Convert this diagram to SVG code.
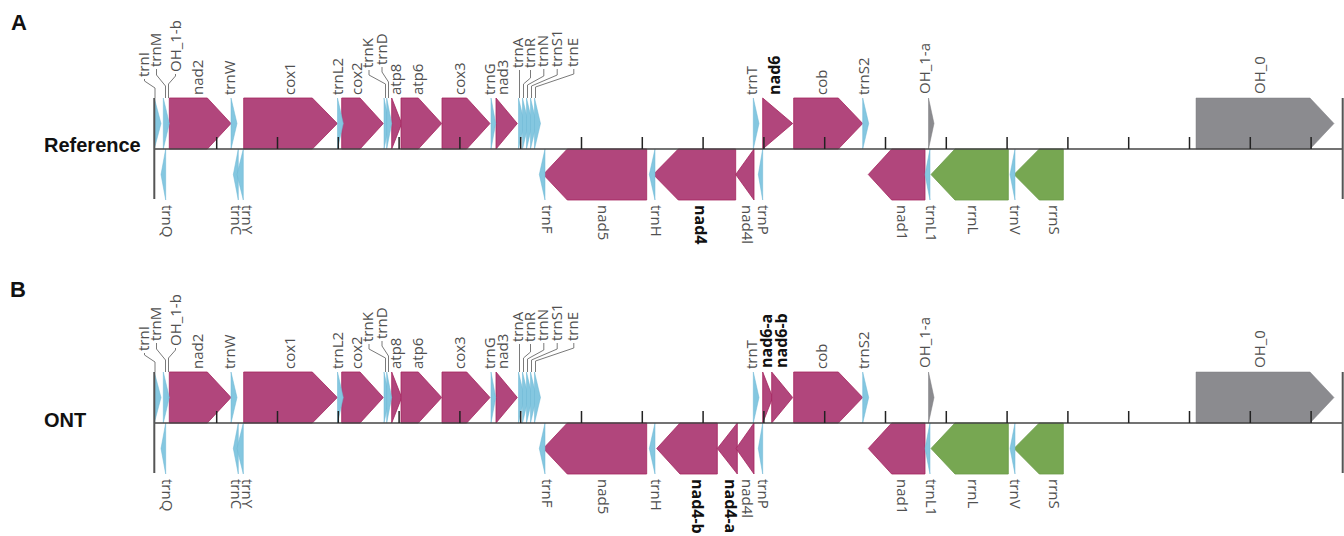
<svg xmlns="http://www.w3.org/2000/svg" width="1344" height="536" viewBox="0 0 1344 536">
<style>
.g{fill:#b1467c;stroke:#a4245e;stroke-width:0.8}
.t{fill:#84c7e0;stroke:#6db6d4;stroke-width:0.5}
.r{fill:#77a752;stroke:#6a9a47;stroke-width:0.8}
.o{fill:#8b8b8f;stroke:#7d7d80;stroke-width:0.5}
.lb{font-family:"Open Sans","DejaVu Sans",sans-serif;font-size:15px;fill:#505050}
.bd{font-family:"Open Sans","DejaVu Sans",sans-serif;font-size:16px;font-weight:700;fill:#111}
.ld{fill:none;stroke:#7a7a7a;stroke-width:1}
.ax{fill:none;stroke:#444;stroke-width:1.5}
.bar{fill:none;stroke:#555;stroke-width:2}
.tk{fill:none;stroke:#222;stroke-width:1.5}
.hd{font-family:"Liberation Sans",Arial,sans-serif;font-weight:700;fill:#111}
</style>
<defs>
<path id="ticks" class="tk" d="M216.7,137V149M277.5,137V149M338.3,137V149M399.1,137V149M459.9,137V149M520.7,137V149M581.5,137V149M642.3,137V149M703.1,137V149M763.9,137V149M824.7,137V149M885.5,137V149M946.3,137V149M1007.1,137V149M1067.9,137V149M1128.7,137V149M1189.5,137V149M1250.3,137V149M1311.1,137V149"/>
<path id="leaders" class="ld" d="M155,98V88L144.5,81V79M165.5,98V86L156.5,75V69M168.5,98V84L175.5,76V74M385.5,98V84L369,75V70M388.5,98V82L382,72V67M519.5,98V70M523.5,98V84L530.5,78V70M527.5,98V85L543.8,76V69M531.5,98V86L557.2,75V69M535.5,98V87L573.8,74V69"/>
</defs>

<text class="hd" x="11" y="30" font-size="22">A</text>
<text class="hd" x="44" y="152" font-size="20">Reference</text>
<text class="hd" x="10" y="297" font-size="22">B</text>
<text class="hd" x="44" y="427" font-size="20">ONT</text>

<!-- ================= Panel A ================= -->
<g id="panelA">
<g id="A-connectors"><use href="#leaders"/></g>
<g id="A-nad2"><polygon class="g" points="169.3,98 207.3,98 231,123.5 207.3,149 169.3,149"/><text class="lb" transform="translate(203,95) rotate(-90)">nad2</text></g>
<g id="A-cox1"><polygon class="g" points="243.7,98 312.3,98 337.3,123.5 312.3,149 243.7,149"/><text class="lb" transform="translate(295,95) rotate(-90)">cox1</text></g>
<g id="A-cox2"><polygon class="g" points="341.7,98 360,98 383.3,123.5 360,149 341.7,149"/><text class="lb" transform="translate(361.7,95) rotate(-90)">cox2</text></g>
<g id="A-atp8"><polygon class="g" points="391.7,98 401.7,123.5 391.7,149"/><text class="lb" transform="translate(400.7,95) rotate(-90)">atp8</text></g>
<g id="A-atp6"><polygon class="g" points="401,98 418.3,98 441.7,123.5 418.3,149 401,149"/><text class="lb" transform="translate(423.3,95) rotate(-90)">atp6</text></g>
<g id="A-cox3"><polygon class="g" points="442,98 466.7,98 490,123.5 466.7,149 442,149"/><text class="lb" transform="translate(465,95) rotate(-90)">cox3</text></g>
<g id="A-nad3"><polygon class="g" points="496,98 517.3,123.5 496,149"/><text class="lb" transform="translate(508.3,95) rotate(-90)">nad3</text></g>
<g id="A-nad6"><polygon class="g" points="762.7,98 792.7,123.5 762.7,149"/><text class="bd" transform="translate(780,95) rotate(-90)">nad6</text></g>
<g id="A-cob"><polygon class="g" points="793.7,98 838.3,98 862.7,123.5 838.3,149 793.7,149"/><text class="lb" transform="translate(826.7,95) rotate(-90)">cob</text></g>
<g id="A-OH_1-a"><polygon class="o" points="928.5,98 934,123.5 928.5,149"/><text class="lb" transform="translate(930,94) rotate(-90)">OH_1-a</text></g>
<g id="A-OH_0"><polygon class="o" points="1196,98 1310,98 1334,123.5 1310,149 1196,149"/><text class="lb" transform="translate(1265,94) rotate(-90)">OH_0</text></g>
<g id="A-OH_1-b"><text class="lb" transform="translate(181,72) rotate(-90)">OH_1-b</text></g>
<g id="A-nad5"><polygon class="g" points="646.7,149 567.3,149 543.3,174.5 567.3,200 646.7,200"/><text class="lb" transform="translate(597.5,205) rotate(90)">nad5</text></g>
<g id="A-nad4"><polygon class="g" points="735.7,149 678.3,149 653.3,174.5 678.3,200 735.7,200"/><text class="bd" transform="translate(695,205) rotate(90)">nad4</text></g>
<g id="A-nad4l"><polygon class="g" points="754,149 735.7,174.5 754,200"/><text class="lb" transform="translate(742.3,205) rotate(90)">nad4l</text></g>
<g id="A-nad1"><polygon class="g" points="925,149 891.7,149 868.3,174.5 891.7,200 925,200"/><text class="lb" transform="translate(896.7,205) rotate(90)">nad1</text></g>
<g id="A-rrnL"><polygon class="r" points="1008.3,149 955,149 931,174.5 955,200 1008.3,200"/><text class="lb" transform="translate(968.3,205) rotate(90)">rrnL</text></g>
<g id="A-rrnS"><polygon class="r" points="1063.3,149 1039.3,149 1014,174.5 1039.3,200 1063.3,200"/><text class="lb" transform="translate(1049,205) rotate(90)">rrnS</text></g>
<g id="A-trnI"><polygon class="t" points="154.3,98 161,123.5 154.3,149"/><text class="lb" transform="translate(149,77) rotate(-90)">trnI</text></g>
<g id="A-trnM"><polygon class="t" points="163.3,98 169.3,123.5 163.3,149"/><text class="lb" transform="translate(161,67) rotate(-90)">trnM</text></g>
<g id="A-trnW"><polygon class="t" points="231,98 237,123.5 231,149"/><text class="lb" transform="translate(235,95) rotate(-90)">trnW</text></g>
<g id="A-trnL2"><polygon class="t" points="337.5,98 343.3,123.5 337.5,149"/><text class="lb" transform="translate(343,95) rotate(-90)">trnL2</text></g>
<g id="A-trnK"><polygon class="t" points="384,98 389.3,123.5 384,149"/><text class="lb" transform="translate(373.3,68) rotate(-90)">trnK</text></g>
<g id="A-trnD"><polygon class="t" points="386.7,98 391.7,123.5 386.7,149"/><text class="lb" transform="translate(386.7,65) rotate(-90)">trnD</text></g>
<g id="A-trnG"><polygon class="t" points="491,98 495.7,123.5 491,149"/><text class="lb" transform="translate(495,95) rotate(-90)">trnG</text></g>
<g id="A-trnA"><polygon class="t" points="518.5,98 524.5,123.5 518.5,149"/><text class="lb" transform="translate(523.3,68) rotate(-90)">trnA</text></g>
<g id="A-trnR"><polygon class="t" points="522.5,98 528.5,123.5 522.5,149"/><text class="lb" transform="translate(535,68) rotate(-90)">trnR</text></g>
<g id="A-trnN"><polygon class="t" points="526.5,98 532.5,123.5 526.5,149"/><text class="lb" transform="translate(548.3,67) rotate(-90)">trnN</text></g>
<g id="A-trnS1"><polygon class="t" points="530.5,98 536.5,123.5 530.5,149"/><text class="lb" transform="translate(561.7,67) rotate(-90)">trnS1</text></g>
<g id="A-trnE"><polygon class="t" points="534.5,98 540.5,123.5 534.5,149"/><text class="lb" transform="translate(578.3,67) rotate(-90)">trnE</text></g>
<g id="A-trnT"><polygon class="t" points="753.3,98 759,123.5 753.3,149"/><text class="lb" transform="translate(756.7,95) rotate(-90)">trnT</text></g>
<g id="A-trnS2"><polygon class="t" points="862.7,98 868.7,123.5 862.7,149"/><text class="lb" transform="translate(869,95) rotate(-90)">trnS2</text></g>
<g id="A-trnQ"><polygon class="t" points="165.7,149 161,174.5 165.7,200"/><text class="lb" transform="translate(161.5,205) rotate(90)">trnQ</text></g>
<g id="A-trnC"><polygon class="t" points="238.3,149 233.3,174.5 238.3,200"/><text class="lb" transform="translate(231,205) rotate(90)">trnC</text></g>
<g id="A-trnY"><polygon class="t" points="243.3,149 237,174.5 243.3,200"/><text class="lb" transform="translate(242,205) rotate(90)">trnY</text></g>
<g id="A-trnF"><polygon class="t" points="545,149 539.3,174.5 545,200"/><text class="lb" transform="translate(541.5,205) rotate(90)">trnF</text></g>
<g id="A-trnH"><polygon class="t" points="655,149 649.3,174.5 655,200"/><text class="lb" transform="translate(651,205) rotate(90)">trnH</text></g>
<g id="A-trnP"><polygon class="t" points="762.7,149 758.3,174.5 762.7,200"/><text class="lb" transform="translate(758,205) rotate(90)">trnP</text></g>
<g id="A-trnL1"><polygon class="t" points="930,149 925,174.5 930,200"/><text class="lb" transform="translate(926,205) rotate(90)">trnL1</text></g>
<g id="A-trnV"><polygon class="t" points="1015,149 1010,174.5 1015,200"/><text class="lb" transform="translate(1009.7,205) rotate(90)">trnV</text></g>
<g id="A-axis"><path class="ax" d="M154.3,149H1342.7"/><path class="bar" d="M154.3,98V199M1342.7,98V199"/><use href="#ticks"/></g>
</g>

<!-- ================= Panel B ================= -->
<g id="panelB" transform="translate(0,274)">
<g id="B-connectors"><use href="#leaders"/></g>
<g id="B-nad2"><polygon class="g" points="169.3,98 207.3,98 231,123.5 207.3,149 169.3,149"/><text class="lb" transform="translate(203,95) rotate(-90)">nad2</text></g>
<g id="B-cox1"><polygon class="g" points="243.7,98 312.3,98 337.3,123.5 312.3,149 243.7,149"/><text class="lb" transform="translate(295,95) rotate(-90)">cox1</text></g>
<g id="B-cox2"><polygon class="g" points="341.7,98 360,98 383.3,123.5 360,149 341.7,149"/><text class="lb" transform="translate(361.7,95) rotate(-90)">cox2</text></g>
<g id="B-atp8"><polygon class="g" points="391.7,98 401.7,123.5 391.7,149"/><text class="lb" transform="translate(400.7,95) rotate(-90)">atp8</text></g>
<g id="B-atp6"><polygon class="g" points="401,98 418.3,98 441.7,123.5 418.3,149 401,149"/><text class="lb" transform="translate(423.3,95) rotate(-90)">atp6</text></g>
<g id="B-cox3"><polygon class="g" points="442,98 466.7,98 490,123.5 466.7,149 442,149"/><text class="lb" transform="translate(465,95) rotate(-90)">cox3</text></g>
<g id="B-nad3"><polygon class="g" points="496,98 517.3,123.5 496,149"/><text class="lb" transform="translate(508.3,95) rotate(-90)">nad3</text></g>
<g id="B-nad6-a"><polygon class="g" points="762.7,98 772.7,123.5 762.7,149"/><text class="bd" transform="translate(771.7,94) rotate(-90)">nad6-a</text></g>
<g id="B-nad6-b"><polygon class="g" points="771.7,98 792.7,123.5 771.7,149"/><text class="bd" transform="translate(786.7,94) rotate(-90)">nad6-b</text></g>
<g id="B-cob"><polygon class="g" points="793.7,98 838.3,98 862.7,123.5 838.3,149 793.7,149"/><text class="lb" transform="translate(826.7,95) rotate(-90)">cob</text></g>
<g id="B-OH_1-a"><polygon class="o" points="928.5,98 934,123.5 928.5,149"/><text class="lb" transform="translate(930,94) rotate(-90)">OH_1-a</text></g>
<g id="B-OH_0"><polygon class="o" points="1196,98 1310,98 1334,123.5 1310,149 1196,149"/><text class="lb" transform="translate(1265,94) rotate(-90)">OH_0</text></g>
<g id="B-OH_1-b"><text class="lb" transform="translate(181,72) rotate(-90)">OH_1-b</text></g>
<g id="B-nad5"><polygon class="g" points="646.7,149 567.3,149 543.3,174.5 567.3,200 646.7,200"/><text class="lb" transform="translate(597.5,205) rotate(90)">nad5</text></g>
<g id="B-nad4-b"><polygon class="g" points="717.3,149 680,149 656.7,174.5 680,200 717.3,200"/><text class="bd" transform="translate(691.7,205) rotate(90)">nad4-b</text></g>
<g id="B-nad4-a"><polygon class="g" points="737.3,149 717.3,174.5 737.3,200"/><text class="bd" transform="translate(725,205) rotate(90)">nad4-a</text></g>
<g id="B-nad4l"><polygon class="g" points="754,149 736,174.5 754,200"/><text class="lb" transform="translate(742.3,205) rotate(90)">nad4l</text></g>
<g id="B-nad1"><polygon class="g" points="925,149 891.7,149 868.3,174.5 891.7,200 925,200"/><text class="lb" transform="translate(896.7,205) rotate(90)">nad1</text></g>
<g id="B-rrnL"><polygon class="r" points="1008.3,149 955,149 931,174.5 955,200 1008.3,200"/><text class="lb" transform="translate(968.3,205) rotate(90)">rrnL</text></g>
<g id="B-rrnS"><polygon class="r" points="1063.3,149 1039.3,149 1014,174.5 1039.3,200 1063.3,200"/><text class="lb" transform="translate(1049,205) rotate(90)">rrnS</text></g>
<g id="B-trnI"><polygon class="t" points="154.3,98 161,123.5 154.3,149"/><text class="lb" transform="translate(149,77) rotate(-90)">trnI</text></g>
<g id="B-trnM"><polygon class="t" points="163.3,98 169.3,123.5 163.3,149"/><text class="lb" transform="translate(161,67) rotate(-90)">trnM</text></g>
<g id="B-trnW"><polygon class="t" points="231,98 237,123.5 231,149"/><text class="lb" transform="translate(235,95) rotate(-90)">trnW</text></g>
<g id="B-trnL2"><polygon class="t" points="337.5,98 343.3,123.5 337.5,149"/><text class="lb" transform="translate(343,95) rotate(-90)">trnL2</text></g>
<g id="B-trnK"><polygon class="t" points="384,98 389.3,123.5 384,149"/><text class="lb" transform="translate(373.3,68) rotate(-90)">trnK</text></g>
<g id="B-trnD"><polygon class="t" points="386.7,98 391.7,123.5 386.7,149"/><text class="lb" transform="translate(386.7,65) rotate(-90)">trnD</text></g>
<g id="B-trnG"><polygon class="t" points="491,98 495.7,123.5 491,149"/><text class="lb" transform="translate(495,95) rotate(-90)">trnG</text></g>
<g id="B-trnA"><polygon class="t" points="518.5,98 524.5,123.5 518.5,149"/><text class="lb" transform="translate(523.3,68) rotate(-90)">trnA</text></g>
<g id="B-trnR"><polygon class="t" points="522.5,98 528.5,123.5 522.5,149"/><text class="lb" transform="translate(535,68) rotate(-90)">trnR</text></g>
<g id="B-trnN"><polygon class="t" points="526.5,98 532.5,123.5 526.5,149"/><text class="lb" transform="translate(548.3,67) rotate(-90)">trnN</text></g>
<g id="B-trnS1"><polygon class="t" points="530.5,98 536.5,123.5 530.5,149"/><text class="lb" transform="translate(561.7,67) rotate(-90)">trnS1</text></g>
<g id="B-trnE"><polygon class="t" points="534.5,98 540.5,123.5 534.5,149"/><text class="lb" transform="translate(578.3,67) rotate(-90)">trnE</text></g>
<g id="B-trnT"><polygon class="t" points="753.3,98 759,123.5 753.3,149"/><text class="lb" transform="translate(756.7,95) rotate(-90)">trnT</text></g>
<g id="B-trnS2"><polygon class="t" points="862.7,98 868.7,123.5 862.7,149"/><text class="lb" transform="translate(869,95) rotate(-90)">trnS2</text></g>
<g id="B-trnQ"><polygon class="t" points="165.7,149 161,174.5 165.7,200"/><text class="lb" transform="translate(161.5,205) rotate(90)">trnQ</text></g>
<g id="B-trnC"><polygon class="t" points="238.3,149 233.3,174.5 238.3,200"/><text class="lb" transform="translate(231,205) rotate(90)">trnC</text></g>
<g id="B-trnY"><polygon class="t" points="243.3,149 237,174.5 243.3,200"/><text class="lb" transform="translate(242,205) rotate(90)">trnY</text></g>
<g id="B-trnF"><polygon class="t" points="545,149 539.3,174.5 545,200"/><text class="lb" transform="translate(541.5,205) rotate(90)">trnF</text></g>
<g id="B-trnH"><polygon class="t" points="655,149 649.3,174.5 655,200"/><text class="lb" transform="translate(651,205) rotate(90)">trnH</text></g>
<g id="B-trnP"><polygon class="t" points="762.7,149 758.3,174.5 762.7,200"/><text class="lb" transform="translate(758,205) rotate(90)">trnP</text></g>
<g id="B-trnL1"><polygon class="t" points="930,149 925,174.5 930,200"/><text class="lb" transform="translate(926,205) rotate(90)">trnL1</text></g>
<g id="B-trnV"><polygon class="t" points="1015,149 1010,174.5 1015,200"/><text class="lb" transform="translate(1009.7,205) rotate(90)">trnV</text></g>
<g id="B-axis"><path class="ax" d="M154.3,149H1342.7"/><path class="bar" d="M154.3,98V199M1342.7,98V199"/><use href="#ticks"/></g>
</g>
</svg>
